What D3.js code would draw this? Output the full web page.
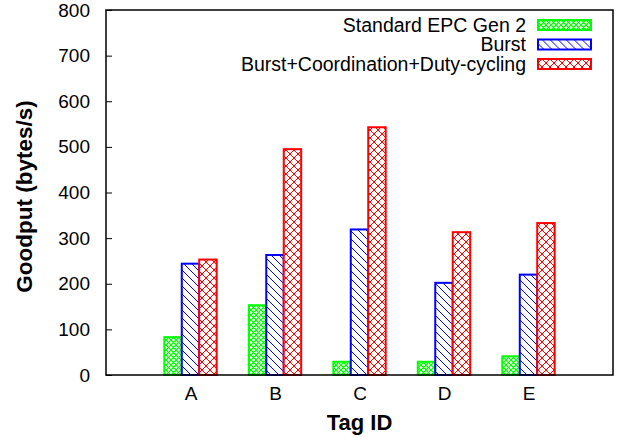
<html>
<head>
  <script src="https://d3js.org/d3.v7.min.js"></script>
  <style>
    body{ margin:0; background:#fff; }
    svg{ display:block; font-family:"Liberation Sans", Arial, sans-serif; }
  </style>
</head>
<body>
  <script type="text/javascript">

    var tags = ["A", "B", "C", "D", "E"]
    var seriesNames = ["Standard EPC Gen 2", "Burst", "Burst+Coordination+Duty-cycling"]
    var gen2 = [83, 153, 29, 29, 41]
    var burst = [244, 263, 319, 202, 220]
    var burstCoord = [253, 495, 543, 313, 333]
    var yTicks = [0, 100, 200, 300, 400, 500, 600, 700, 800]

    var colors = ["#00ff00", "#0000ff", "#ff0000"]
    var patternIds = ["patGreen", "patBlue", "patRed"]

    var screen = {width:618, height:438}
    var margins = {top:10, right:5, bottom:63, left:106}

    var svg = d3.select("body").append("svg")
      .attr("width", screen.width)
      .attr("height", screen.height)

    var width = screen.width - margins.left - margins.right
    var height = screen.height - margins.top - margins.bottom

    // patterns
    var defs = svg.append("defs")
    var pg = defs.append("pattern").attr("id", "patGreen")
      .attr("patternUnits", "userSpaceOnUse").attr("width", 5).attr("height", 5)
    pg.append("rect").attr("width", 5).attr("height", 5).attr("fill", "#fff")
    pg.append("path").attr("d", "M0,0 L5,5 M5,0 L0,5")
      .attr("stroke", colors[0]).attr("stroke-width", 1.2)

    var pb = defs.append("pattern").attr("id", "patBlue")
      .attr("patternUnits", "userSpaceOnUse").attr("width", 8).attr("height", 8)
    pb.append("rect").attr("width", 8).attr("height", 8).attr("fill", "#fff")
    pb.append("path").attr("d", "M-2,-2 L10,10 M-2,6 L2,10 M6,-2 L10,2")
      .attr("stroke", colors[1]).attr("stroke-width", 1)

    var pr = defs.append("pattern").attr("id", "patRed")
      .attr("patternUnits", "userSpaceOnUse").attr("width", 8).attr("height", 8)
    pr.append("rect").attr("width", 8).attr("height", 8).attr("fill", "#fff")
    pr.append("path").attr("d", "M0,0 L8,8 M8,0 L0,8")
      .attr("stroke", colors[2]).attr("stroke-width", 1)

    // scales
    var xScale = d3.scaleLinear()
      .domain([-1, tags.length])
      .range([0, width])
    var unit = xScale(1) - xScale(0)
    var inner = d3.scaleBand()
      .domain(d3.range(seriesNames.length))
      .range([-0.31 * unit, 0.31 * unit])
    var yScale = d3.scaleLinear()
      .domain([0, 800])
      .range([height, 0])

    var plot = svg.append("g")
      .attr("transform", "translate(" + margins.left + "," + margins.top + ")")

    var seriesData = [gen2, burst, burstCoord]

    var groups = plot.selectAll("g.series")
      .data(seriesData)
      .enter()
      .append("g")
      .classed("series", true)

    groups.selectAll("rect")
      .data(function(d, s){ return d.map(function(v, i){ return {v:v, i:i, s:s} }) })
      .enter()
      .append("rect")
      .attr("x", function(d){ return xScale(d.i) + inner(d.s) })
      .attr("y", function(d){ return yScale(d.v) })
      .attr("width", inner.bandwidth())
      .attr("height", function(d){ return height - yScale(d.v) })
      .attr("fill", function(d){ return "url(#" + patternIds[d.s] + ")" })
      .attr("stroke", function(d){ return colors[d.s] })
      .attr("stroke-width", 2)

    // frame
    plot.append("rect")
      .attr("width", width).attr("height", height)
      .attr("fill", "none").attr("stroke", "#000").attr("stroke-width", 1.5)

    // y axis
    var yAxis = d3.axisLeft(yScale)
      .tickValues(yTicks)
      .tickSizeInner(-6)
      .tickSizeOuter(0)
      .tickPadding(16)
    var ya = plot.append("g").call(yAxis)
    ya.select(".domain").remove()
    ya.selectAll("text").attr("font-size", 19).attr("fill", "#000")
      .attr("font-family", "Liberation Sans, Arial, sans-serif")

    // x axis labels
    var xAxis = d3.axisBottom(xScale)
      .tickValues(d3.range(tags.length))
      .tickFormat(function(i){ return tags[i] })
      .tickSize(0)
      .tickPadding(12)
    var xa = plot.append("g").attr("transform", "translate(0," + height + ")").call(xAxis)
    xa.select(".domain").remove()
    xa.selectAll("text").attr("font-size", 19).attr("fill", "#000")
      .attr("font-family", "Liberation Sans, Arial, sans-serif")

    // axis titles
    svg.append("text")
      .attr("x", margins.left + width / 2)
      .attr("y", 430)
      .attr("text-anchor", "middle")
      .attr("font-size", 22)
      .attr("font-weight", "bold")
      .text("Tag ID")

    svg.append("text")
      .attr("transform", "translate(32," + (margins.top + height / 2 + 4) + ") rotate(-90)")
      .attr("text-anchor", "middle")
      .attr("font-size", 22.5)
      .attr("font-weight", "bold")
      .text("Goodput (bytes/s)")

    // legend
    var legend = svg.append("g")
      .attr("transform", "translate(526,20)")
    var legendLines = legend.selectAll("g")
      .data(seriesNames)
      .enter()
      .append("g")
      .attr("transform", function(d, i){ return "translate(0," + i * 19.5 + ")" })

    legendLines.append("rect")
      .attr("x", 12).attr("y", 0)
      .attr("width", 53).attr("height", 10)
      .attr("fill", function(d, i){ return "url(#" + patternIds[i] + ")" })
      .attr("stroke", function(d, i){ return colors[i] })
      .attr("stroke-width", 2)

    legendLines.append("text")
      .attr("x", 0).attr("y", 11.5)
      .attr("text-anchor", "end")
      .attr("font-size", 19.5)
      .text(function(d){ return d })

  </script>
</body>
</html>
